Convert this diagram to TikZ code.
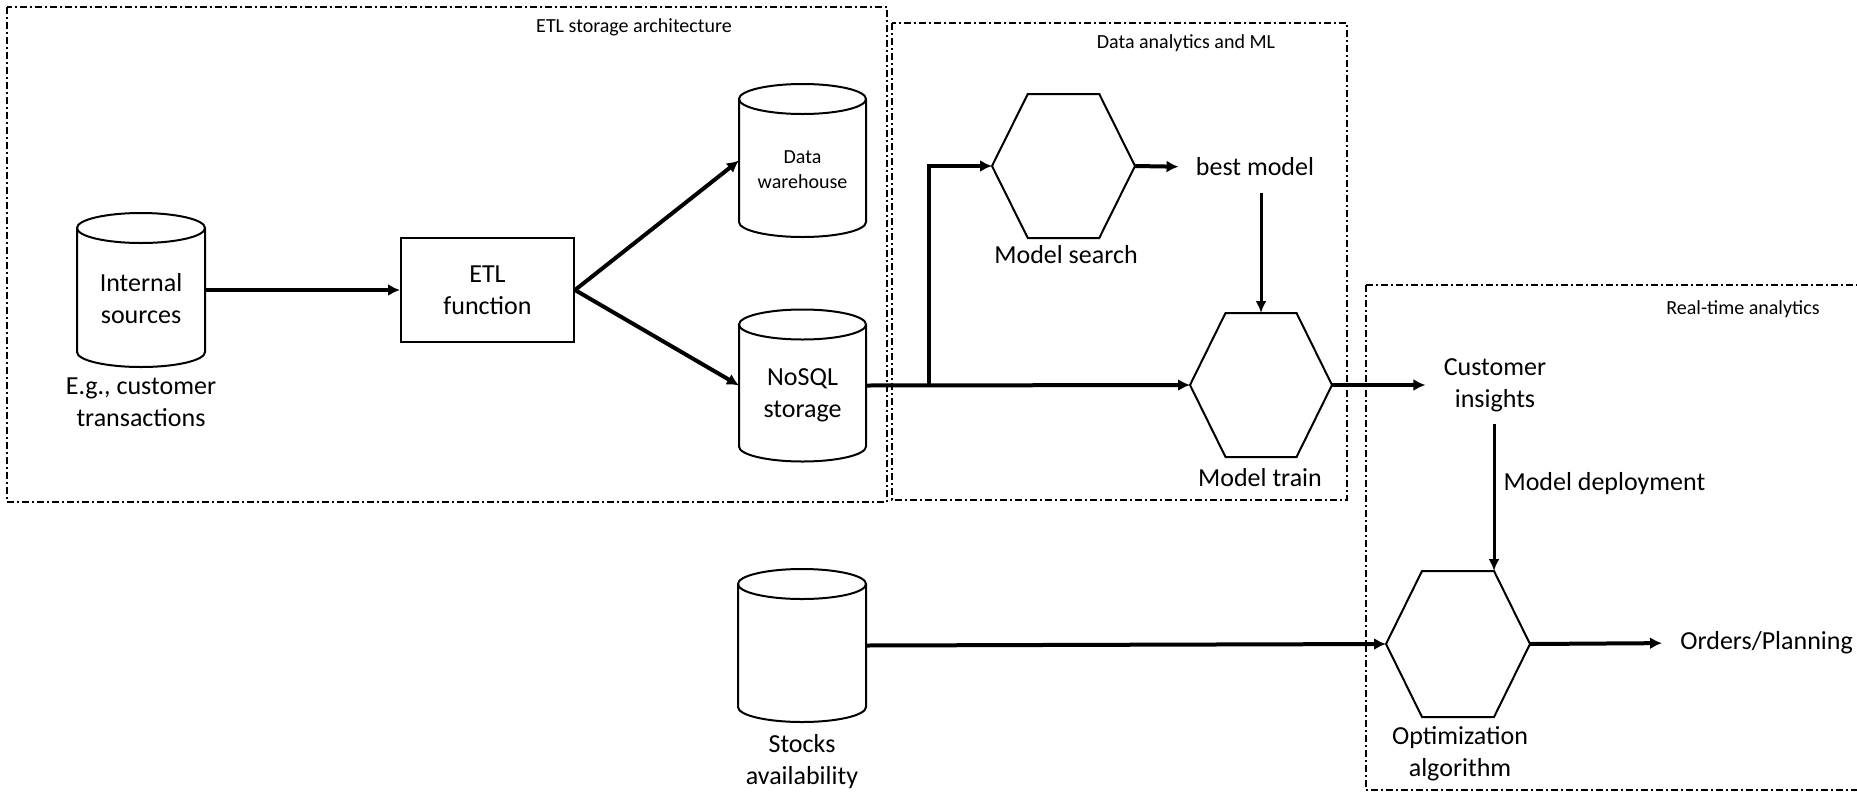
\documentclass[tikz,border=0pt]{standalone}
\usepackage{fontspec}
\setmainfont{Carlito}
\usetikzlibrary{arrows.meta,calc}

% cylinder outline around a (textless) holder node; #2 = half width
\newcommand\drawcyl[2]{%
  \draw[shapeline] ($(#1.north)+(0pt,-7.5pt)$) ellipse [x radius=#2, y radius=7.5pt];
  \draw[shapeline] ($(#1.north west)+(0pt,-7.5pt)$) -- ($(#1.south west)+(0pt,7.5pt)$)
    arc[start angle=180, end angle=360, x radius=#2, y radius=7.5pt]
    -- ($(#1.north east)+(0pt,-7.5pt)$);}
% stretched hexagon with pointed left/right ends
\newcommand\drawhex[1]{%
  \draw[shapeline] (#1.west) -- ($(#1.north west)!0.25!(#1.north east)$)
    -- ($(#1.north west)!0.75!(#1.north east)$) -- (#1.east)
    -- ($(#1.south west)!0.75!(#1.south east)$)
    -- ($(#1.south west)!0.25!(#1.south east)$) -- cycle;}

\begin{document}
\begin{tikzpicture}[x=0.5pt,y=-0.5pt,
  shapeline/.style={line width=1pt},
  flow/.style={line width=2pt,-{Latex[length=6pt,width=6pt]}},
  thinflow/.style={line width=1.5pt,-{Latex[length=6pt,width=5.5pt]}},
  zone/.style={line width=0.8pt,dash pattern=on 3.5pt off 1.5pt on 1pt off 1.5pt},
  zonetitle/.style={font=\fontsize{10}{12}\selectfont,inner sep=0pt},
  body/.style={font=\fontsize{13}{16}\selectfont,align=center,inner sep=0pt},
  small/.style={font=\fontsize{10}{12.5}\selectfont,align=center,inner sep=0pt},
  hold/.style={inner sep=0pt,outer sep=0pt},
]
\useasboundingbox (0,0) rectangle (1857,793);
\clip (0,0) rectangle (1857,793);

% zones
\draw[zone] (7,7) rectangle (887,502);
\draw[zone] (892,23) rectangle (1347,500);
\draw[zone] (1366,285) rectangle (1862,790);
\node[zonetitle] (z1) at (634,27) {ETL storage architecture};
\node[zonetitle] (z2) at (1186,43) {Data analytics and ML};
\node[zonetitle] (z3) at (1743,309) {Real-time analytics};

% storages
\node[hold,minimum width=64pt,minimum height=77pt] (ins) at (141,290) {};
\drawcyl{ins}{32pt}
\node[body] (ins-t) at (141,299) {Internal\\sources};
\node[body] (ins-l) at (141,402.5) {E.g., customer\\transactions};

\node[hold,minimum width=63.5pt,minimum height=76.5pt] (dw) at (802.5,160.5) {};
\drawcyl{dw}{31.75pt}
\node[small] (dw-t) at (802.5,169.5) {Data\\warehouse};

\node[hold,minimum width=63.5pt,minimum height=76pt] (nosql) at (802.5,385.5) {};
\drawcyl{nosql}{31.75pt}
\node[body] (nosql-t) at (802.5,395) {NoSQL\\storage};

\node[hold,minimum width=64pt,minimum height=76.5pt] (stk) at (802,645.5) {};
\drawcyl{stk}{32pt}
\node[body] (stk-l) at (802,762) {Stocks\\availability};

% ETL step
\node[draw,shapeline,body,minimum width=86.5pt,minimum height=52pt] (etl) at (487.5,290) {ETL\\function};

% processing hexagons
\node[hold,minimum width=71.5pt,minimum height=72pt] (ms) at (1063.5,166) {};
\drawhex{ms}
\node[body] (ms-l) at (1066,255) {Model search};

\node[hold,minimum width=71pt,minimum height=72pt] (mt) at (1261,385) {};
\drawhex{mt}
\node[body] (mt-l) at (1260,478) {Model train};

\node[hold,minimum width=72pt,minimum height=73pt] (opt) at (1458,644) {};
\drawhex{opt}
\node[body] (opt-l) at (1460,754) {Optimization\\algorithm};
\coordinate (opttop) at ($(opt.north west)!0.75!(opt.north east)$);

% results
\node[body] (best) at (1255,167) {best model};
\node[body] (ci) at (1495,385) {Customer\\insights};
\node[body,anchor=west] (orders) at (1680,643) {Orders/Planning};

% flows
\draw[flow] (ins.east) -- (etl.west);
\draw[flow] (etl.east) -- (dw.west);
\draw[flow] (etl.east) -- (nosql.west);
\draw[flow] (nosql.east) -- (mt.west);
\coordinate (split) at (929,385);
\draw[flow] (split) |- (ms.west);
\draw[flow,shorten >=8.5pt] (ms.east) -- (best.west);
\draw[thinflow] ([yshift=-8pt]best.south -| mt.north) -- (mt.north);
\draw[flow,shorten >=9pt] (mt.east) -- (ci.west);
\draw[thinflow,shorten <=6pt] (ci.south -| opttop) -- (opttop)
  node[body,pos=0.45,anchor=west,xshift=4pt] (deploy) {Model deployment};
\draw[flow] (stk.east) -- (opt.west);
\draw[flow,shorten >=9pt] (opt.east) -- (orders.west);
\end{tikzpicture}
\end{document}
